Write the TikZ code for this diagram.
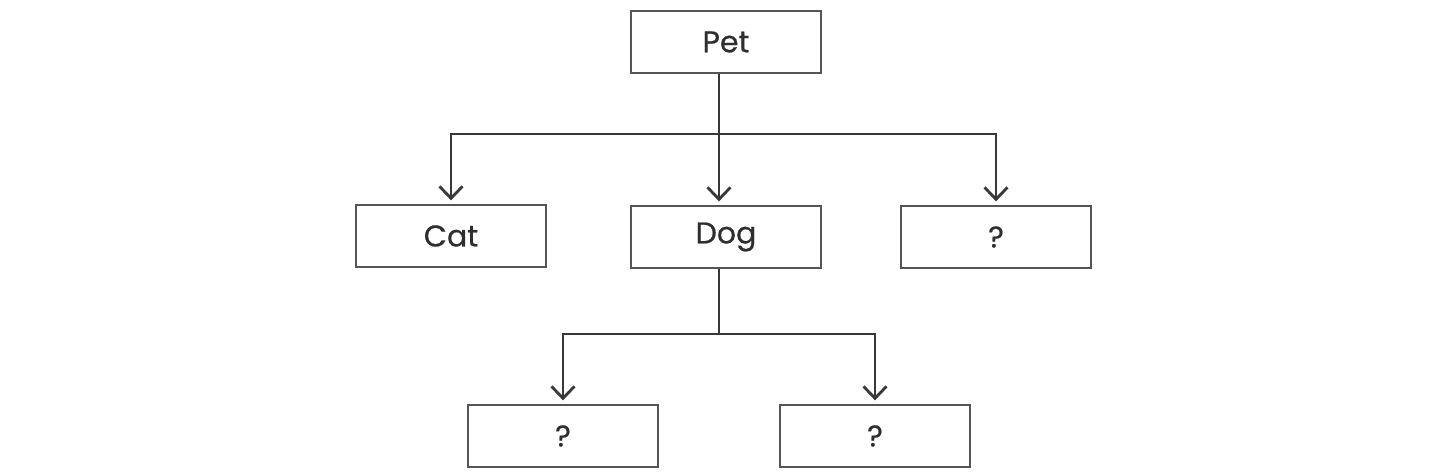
\documentclass[tikz,border=0pt]{standalone}
\usepackage{fontspec}
\setmainfont{Poppins}
\newfontfamily\labelfont{Poppins}[FakeBold=0.6]
\usetikzlibrary{arrows.meta}
\definecolor{txt}{HTML}{2E2E2E}
\definecolor{boxline}{HTML}{555555}
\definecolor{conncol}{HTML}{383838}
\begin{document}
\begin{tikzpicture}[x=1pt,y=-1pt,
  box/.style={draw=boxline,line width=1.3pt,minimum width=190pt,minimum height=62pt,
    inner sep=0pt,text=txt,font=\labelfont\fontsize{30}{33}\selectfont},
  conn/.style={draw=conncol,line width=2.8pt,shorten >=4pt,
    -{Straight Barb[length=12pt,width=23pt,line width=2.8pt]}},
  stem/.style={draw=conncol,line width=2.8pt}]
\useasboundingbox (0,0) rectangle (1450,474);
\node[box] (pet) at (726,42) {Pet};
\node[box] (cat) at (451,236) {Cat};
\node[box] (dog) at (726,237) {Dog};
\node[box] (q1) at (996,237) {?};
\node[box] (q2) at (563,436) {?};
\node[box] (q3) at (875,436) {?};
\coordinate (j1) at (719,134);
\coordinate (j2) at (719,334);
\draw[stem] (j1 |- pet.south) -- (j1);
\draw[conn] (j1) -| (cat.north);
\draw[conn] (j1) -- (j1 |- dog.north);
\draw[conn] (j1) -| (q1.north);
\draw[stem] (j2 |- dog.south) -- (j2);
\draw[conn] (j2) -| (q2.north);
\draw[conn] (j2) -| (q3.north);
\end{tikzpicture}
\end{document}
